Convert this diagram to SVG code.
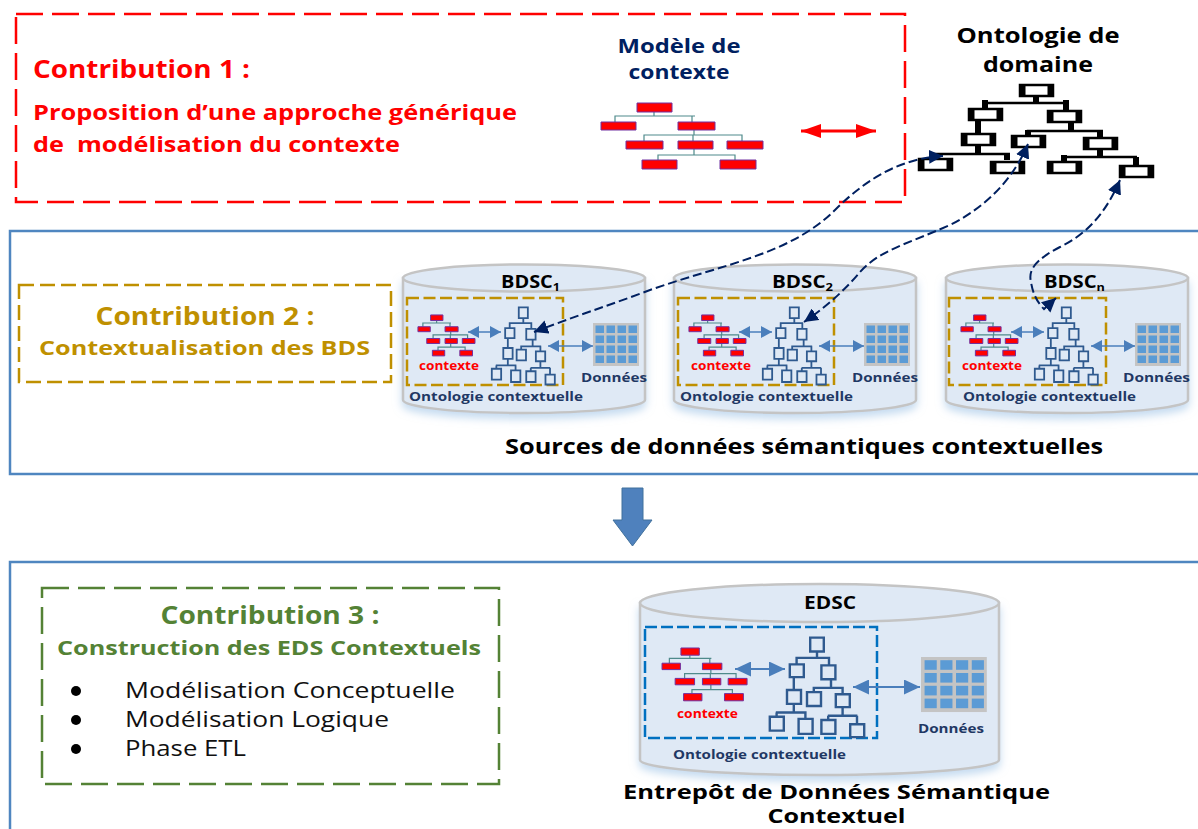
<svg xmlns="http://www.w3.org/2000/svg" width="1198" height="829" viewBox="0 0 1198 829">
<style>
text{font-family:"Open Sans","Liberation Sans",sans-serif;font-weight:700}
.red{fill:#ff0000}.navy{fill:#002060}.blk{fill:#000}.gold{fill:#bf9000}.green{fill:#548235}.onav{fill:#1f3864}
.frame{fill:none;stroke:#4f86c0;stroke-width:2.500}
.cyl{fill:#dfe9f5;stroke:#c4c4c4;stroke-width:2.5}
.dgold{fill:none;stroke:#bf9000;stroke-width:2.500;stroke-dasharray:12 4.500}
.dgold2{fill:none;stroke:#bf9000;stroke-width:2.500;stroke-dasharray:15 6}
#ontoT *,#ctxT *{vector-effect:non-scaling-stroke}
.onto{fill:#dfe9f5;stroke:#2f5a8f;stroke-width:1.800}
.cl{fill:none;stroke:#4f8a8b;stroke-width:1.200}
.cr{fill:#ff0000;stroke:#7030a0;stroke-width:1}
.db{stroke:#4a7ebb;stroke-width:1.700;fill:none;marker-start:url(#mb);marker-end:url(#mb)}
.dbl{stroke:#4a7ebb;stroke-width:2;fill:none;marker-start:url(#mbl);marker-end:url(#mbl)}
.dn{stroke:#002060;stroke-width:2;fill:none;stroke-dasharray:9 4;marker-start:url(#mn);marker-end:url(#mn)}
.reg{font-weight:400;fill:#111}
</style>
<defs>
<marker id="mb" markerUnits="userSpaceOnUse" markerWidth="12" markerHeight="12" refX="11" refY="6" orient="auto-start-reverse"><path d="M0 0L11 6L0 12z" fill="#4a7ebb"/></marker>
<marker id="mbl" markerUnits="userSpaceOnUse" markerWidth="16" markerHeight="15" refX="16" refY="7.500" orient="auto-start-reverse"><path d="M0 0L16 7.500L0 15z" fill="#4a7ebb"/></marker>
<marker id="mr" markerUnits="userSpaceOnUse" markerWidth="20" markerHeight="14" refX="20" refY="7" orient="auto-start-reverse"><path d="M0 0L20 7L0 14z" fill="#ff0000"/></marker>
<marker id="mn" markerUnits="userSpaceOnUse" markerWidth="15" markerHeight="14" refX="14" refY="7" orient="auto-start-reverse"><path d="M0 0L14 7L0 14z" fill="#002060"/></marker>
<filter id="sh" x="-10%" y="-10%" width="120%" height="125%"><feDropShadow dx="0" dy="5" stdDeviation="4" flood-color="#9dc3e6" flood-opacity=".6"/></filter>
<g id="ctxT">
<path class="cl" d="M654 112V116M615 122V116H695M692 116V122M694 130V135M644 141V135H742V141M693 135V141M694 149V155M658 160V155H735V160"/>
<g class="cr"><rect x="637" y="103" width="35" height="9"/><rect x="601" y="122" width="35" height="8"/><rect x="678" y="122" width="37" height="8"/><rect x="626" y="141" width="37" height="8"/><rect x="678" y="141" width="35" height="8"/><rect x="727" y="141" width="36" height="8"/><rect x="642" y="160" width="35" height="9"/><rect x="720" y="160" width="36" height="9"/></g>
</g>
<g id="ontoT">
<path fill="none" d="M1036 97V103M985 109V103H1066V110M1071 123V131M1028 135V131H1103M1100 131V137M978 121V133M978 146V154M933 154H1010M935 154V158M1007 154V160M1100 149V157M1063 157H1137M1064 157V161M1136 157V165"/>
<rect x="1019" y="84" width="34" height="13"/><rect x="968" y="109" width="35" height="12"/><rect x="1047" y="110" width="35" height="13"/><rect x="961" y="133" width="35" height="13"/><rect x="1011" y="135" width="35" height="13"/><rect x="1083" y="137" width="35" height="12"/><rect x="918" y="158" width="35" height="13"/><rect x="990" y="160" width="35" height="14"/><rect x="1047" y="161" width="35" height="13"/><rect x="1119" y="165" width="35" height="12"/>
</g>
<g id="bb"><rect x="1" y="1" width="33" height="11" fill="#fff" stroke="#000" stroke-width="2.500"/><rect width="6.500" height="13" fill="#000"/><rect x="28.500" width="6.500" height="13" fill="#000"/></g>
<g id="grid"><rect width="46" height="43" fill="#c4c4c4"/>
<g fill="#5b9bd5"><rect x="2.500" y="2.500" width="8.500" height="7.500"/><rect x="13.500" y="2.500" width="8.500" height="7.500"/><rect x="24.500" y="2.500" width="8.500" height="7.500"/><rect x="35.500" y="2.500" width="8.500" height="7.500"/><rect x="2.500" y="12.500" width="8.500" height="7.500"/><rect x="13.500" y="12.500" width="8.500" height="7.500"/><rect x="24.500" y="12.500" width="8.500" height="7.500"/><rect x="35.500" y="12.500" width="8.500" height="7.500"/><rect x="2.500" y="22.500" width="8.500" height="7.500"/><rect x="13.500" y="22.500" width="8.500" height="7.500"/><rect x="24.500" y="22.500" width="8.500" height="7.500"/><rect x="35.500" y="22.500" width="8.500" height="7.500"/><rect x="2.500" y="32.500" width="8.500" height="7.500"/><rect x="13.500" y="32.500" width="8.500" height="7.500"/><rect x="24.500" y="32.500" width="8.500" height="7.500"/><rect x="35.500" y="32.500" width="8.500" height="7.500"/></g></g>
<g id="cylS"><path class="cyl" filter="url(#sh)" d="M403 278V400C403 407 457 413 524 413S645 407 645 400V278z"/><ellipse class="cyl" cx="524" cy="278" rx="121" ry="13.500"/></g>
</defs>
<rect width="1198" height="829" fill="#fff"/>

<g id="contribution-1">
<rect x="16" y="14" width="889" height="188" fill="none" stroke="#ff0000" stroke-width="2.500" stroke-dasharray="27 9"/>
<text class="red" x="33" y="78" font-size="25" textLength="217" lengthAdjust="spacingAndGlyphs">Contribution 1 :</text>
<text class="red" x="33" y="120" font-size="22" textLength="484" lengthAdjust="spacingAndGlyphs">Proposition d’une approche générique</text>
<text class="red" x="33" y="152" font-size="22" textLength="367" lengthAdjust="spacingAndGlyphs" xml:space="preserve">de  modélisation du contexte</text>
</g>
<g id="modele-contexte">
<text class="navy" x="679" y="53" font-size="20" text-anchor="middle" textLength="123" lengthAdjust="spacingAndGlyphs">Modèle de</text>
<text class="navy" x="679" y="79" font-size="20" text-anchor="middle" textLength="101" lengthAdjust="spacingAndGlyphs">contexte</text>
<use href="#ctxT"/>
</g>
<g id="ontologie-domaine">
<text class="blk" x="1038" y="43" font-size="21" text-anchor="middle" textLength="163" lengthAdjust="spacingAndGlyphs">Ontologie de</text>
<text class="blk" x="1038" y="72" font-size="21" text-anchor="middle" textLength="110" lengthAdjust="spacingAndGlyphs">domaine</text>
<path fill="none" stroke="#000" stroke-width="2.500" d="M985 109V103H1066V110M1028 135V131H1103M933 154H1010M935 154V158M1063 157H1137M1064 157V161"/>
<path fill="none" stroke="#000" stroke-width="6" d="M1036 97V103M985 100V109M1066 100V110M1071 123V131M1028 130V135M1100 131V137M978 121V133M978 146V154M1007 154V160M1100 149V157M1064 155V161M1136 157V165"/>
<use href="#bb" x="1019" y="84"/><use href="#bb" x="968" y="108"/><use href="#bb" x="1047" y="110"/><use href="#bb" x="961" y="133"/><use href="#bb" x="1011" y="135"/><use href="#bb" x="1083" y="137"/><use href="#bb" x="918" y="158"/><use href="#bb" x="990" y="161"/><use href="#bb" x="1047" y="161"/><use href="#bb" x="1119" y="165"/>
</g>

<g id="sources-frame">
<rect class="frame" x="10" y="231" width="1198" height="243"/>
<text class="blk" x="505" y="454" font-size="20.500" textLength="598" lengthAdjust="spacingAndGlyphs">Sources de données sémantiques contextuelles</text>
</g>
<g id="contribution-2">
<rect x="19" y="285" width="372" height="97" class="dgold2"/>
<text class="gold" x="205" y="325" font-size="24.500" text-anchor="middle" textLength="219" lengthAdjust="spacingAndGlyphs">Contribution 2 :</text>
<text class="gold" x="204.500" y="355" font-size="20" text-anchor="middle" textLength="331" lengthAdjust="spacingAndGlyphs">Contextualisation des BDS</text>
</g>

<g id="bdsc-1">
<use href="#cylS"/>
<text class="blk" x="501" y="288" font-size="17.500" textLength="59" lengthAdjust="spacingAndGlyphs">BDSC<tspan font-size="11" dy="3">1</tspan></text>
<rect class="dgold" x="407" y="298" width="156" height="87"/>
<use href="#ctxT" transform="translate(206.400 251.100) scale(.352 .62)"/>
<use href="#ontoT" class="onto" transform="translate(246.700 237.600) scale(.267 .83)"/>
<use href="#grid" x="593" y="323"/>
<text class="red" x="419" y="370" font-size="11.500" textLength="60" lengthAdjust="spacingAndGlyphs">contexte</text>
<text class="onav" x="409" y="401" font-size="12.500" textLength="174" lengthAdjust="spacingAndGlyphs">Ontologie contextuelle</text>
<text class="onav" x="581" y="382" font-size="12.500" textLength="66" lengthAdjust="spacingAndGlyphs">Données</text>
</g>
<g id="bdsc-2" >
<use href="#cylS" x="271"/>
<text class="blk" x="772" y="288" font-size="17.500" textLength="61" lengthAdjust="spacingAndGlyphs">BDSC<tspan font-size="11" dy="3">2</tspan></text>
<rect class="dgold" x="678" y="298" width="156" height="87"/>
<use href="#ctxT" transform="translate(477.400 251.100) scale(.352 .62)"/>
<use href="#ontoT" class="onto" transform="translate(517.700 237.600) scale(.267 .83)"/>
<use href="#grid" x="864" y="323"/>
<text class="red" x="691" y="370" font-size="11.500" textLength="60" lengthAdjust="spacingAndGlyphs">contexte</text>
<text class="onav" x="680" y="401" font-size="12.500" textLength="173" lengthAdjust="spacingAndGlyphs">Ontologie contextuelle</text>
<text class="onav" x="852" y="382" font-size="12.500" textLength="66" lengthAdjust="spacingAndGlyphs">Données</text>
</g>
<g id="bdsc-n">
<use href="#cylS" x="543"/>
<text class="blk" x="1044" y="288" font-size="17.500" textLength="61" lengthAdjust="spacingAndGlyphs">BDSC<tspan font-size="11" dy="3">n</tspan></text>
<rect class="dgold" x="949" y="298" width="157" height="87"/>
<use href="#ctxT" transform="translate(749.400 251.100) scale(.352 .62)"/>
<use href="#ontoT" class="onto" transform="translate(789.700 237.600) scale(.267 .83)"/>
<use href="#grid" x="1135" y="323"/>
<text class="red" x="962" y="370" font-size="11.500" textLength="60" lengthAdjust="spacingAndGlyphs">contexte</text>
<text class="onav" x="963" y="401" font-size="12.500" textLength="173" lengthAdjust="spacingAndGlyphs">Ontologie contextuelle</text>
<text class="onav" x="1123" y="382" font-size="12.500" textLength="67" lengthAdjust="spacingAndGlyphs">Données</text>
</g>

<g id="fleche-bas"><path d="M622 488H643V520H652L632.500 546L613 520H622z" fill="#4f81bd" stroke="#41719c" stroke-width="1"/></g>

<g id="entrepot-frame"><path class="frame" d="M1208 562H10V839"/></g>
<g id="contribution-3">
<rect x="42" y="588" width="457" height="196" fill="none" stroke="#548235" stroke-width="2.500" stroke-dasharray="27 9"/>
<text class="green" x="270" y="624" font-size="24.500" text-anchor="middle" textLength="219" lengthAdjust="spacingAndGlyphs">Contribution 3 :</text>
<text class="green" x="269" y="655" font-size="20" text-anchor="middle" textLength="424" lengthAdjust="spacingAndGlyphs">Construction des EDS Contextuels</text>
<circle cx="76" cy="691" r="5"/><circle cx="76" cy="720" r="5"/><circle cx="76" cy="749" r="5"/>
<text class="reg" x="125" y="698" font-size="21" textLength="330" lengthAdjust="spacingAndGlyphs">Modélisation Conceptuelle</text>
<text class="reg" x="125" y="727" font-size="21" textLength="264" lengthAdjust="spacingAndGlyphs">Modélisation Logique</text>
<text class="reg" x="125" y="756" font-size="21" textLength="121" lengthAdjust="spacingAndGlyphs">Phase ETL</text>
</g>
<g id="edsc">
<path class="cyl" filter="url(#sh)" d="M640 603V760C640 768 720 775 819.500 775S999 768 999 760V603z"/><ellipse class="cyl" cx="819.500" cy="603" rx="179.500" ry="19"/>
<text class="blk" x="830" y="609" font-size="18" text-anchor="middle" textLength="52" lengthAdjust="spacingAndGlyphs">EDSC</text>
<rect x="645" y="627" width="232" height="111" fill="none" stroke="#0070c0" stroke-width="2.500" stroke-dasharray="12 4"/>
<use href="#ctxT" transform="translate(346.500 565.600) scale(.525 .8)"/>
<use href="#ontoT" class="onto" style="stroke-width:2.400" transform="translate(402.600 547.700) scale(.4 1.07)"/>
<use href="#grid" transform="translate(921 657) scale(1.43 1.28)"/>
<text class="red" x="677" y="718" font-size="12.500" textLength="61" lengthAdjust="spacingAndGlyphs">contexte</text>
<text class="onav" x="673" y="759" font-size="13" textLength="173" lengthAdjust="spacingAndGlyphs">Ontologie contextuelle</text>
<text class="onav" x="918" y="733" font-size="13" textLength="66" lengthAdjust="spacingAndGlyphs">Données</text>
<text class="blk" x="836.500" y="799" font-size="20" text-anchor="middle" textLength="427" lengthAdjust="spacingAndGlyphs">Entrepôt de Données Sémantique</text>
<text class="blk" x="836.500" y="823" font-size="20" text-anchor="middle" textLength="138" lengthAdjust="spacingAndGlyphs">Contextuel</text>
</g>

<g id="connectors">
<path d="M801 131H876" stroke="#ff0000" stroke-width="3" fill="none" marker-start="url(#mr)" marker-end="url(#mr)"/>
<path class="db" d="M468 332H501"/><path class="db" d="M548 346H593"/>
<path class="db" d="M739 332H772"/><path class="db" d="M819 346H864"/>
<path class="db" d="M1011 332H1044"/><path class="db" d="M1091 346H1135"/>
<path class="dbl" d="M735 669H785"/><path class="dbl" d="M853 687H920"/>
<path class="dn" d="M943 156C905 158 870 175 835 210C790 255 720 265 650 290C610 305 570 318 534 332"/>
<path class="dn" d="M1028 144C1015 175 990 205 950 225C905 245 880 250 860 272C845 290 825 308 804 322"/>
<path class="dn" d="M1120 180C1105 215 1085 235 1060 247C1035 260 1028 270 1031 282C1033 295 1038 303 1044 309L1056 298"/>
</g>
</svg>
